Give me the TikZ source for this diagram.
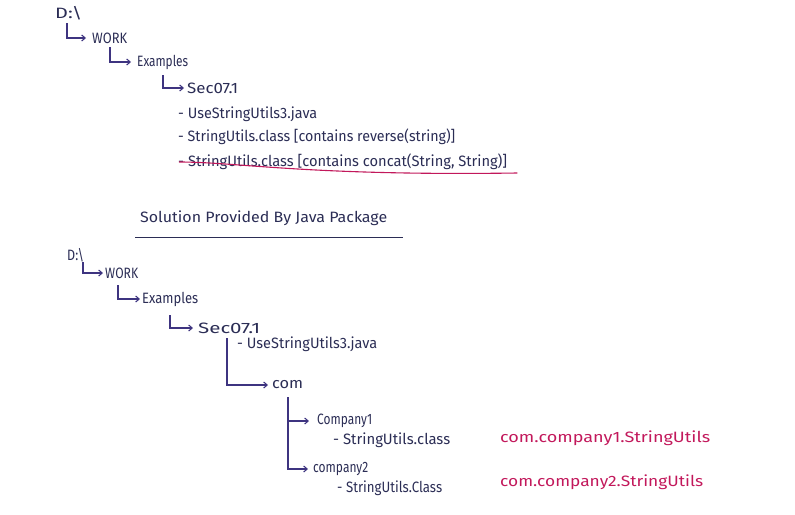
\documentclass[tikz,border=0pt]{standalone}
\usepackage{fontspec}
\usepackage{graphicx}
\setmainfont{Fira Sans}
\usetikzlibrary{arrows.meta}
\definecolor{ink}{HTML}{2B2D55}
\definecolor{wire}{HTML}{3E3480}
\definecolor{mag}{HTML}{C2185B}
\newcommand\fitw[2]{\resizebox{#1pt}{\height}{#2}}
\tikzset{
  hw/.style={font=\fontsize{15}{17}\selectfont, text=ink, inner sep=0pt, anchor=west},
  hwmag/.style={hw, text=mag},
  arr/.style={draw=wire, line width=1.1pt, -{Straight Barb[length=3.5pt,width=6pt]}},
  wireline/.style={draw=wire, line width=1.1pt},
  redline/.style={draw=mag, line width=1.1pt},
  uline/.style={draw=ink, line width=1pt}
}
\begin{document}
\begin{tikzpicture}[x=1pt,y=-1pt]
\useasboundingbox (0,0) rectangle (795,514);
% ---- top tree ----
\node[hw] (d1) at (55,13) {\fitw{27}{D:\textbackslash}};
\node[hw] (w1) at (92,38) {\fitw{35}{WORK}};
\node[hw] (e1) at (137,62) {\fitw{51}{Examples}};
\node[hw] (s1) at (187,88) {\fitw{51}{Sec07.1}};
\node[hw] (u1) at (178,114) {\fitw{139}{- UseStringUtils3.java}};
\node[hw] (c1) at (178,137) {\fitw{277}{- StringUtils.class [contains reverse(string)]}};
\node[hw] (c2) at (178,162) {\fitw{329}{- StringUtils.class [contains concat(String, String)]}};
\draw[arr] ([shift={(12pt,-10pt)}]d1.west) |- ([xshift=-6pt]w1.west);
\draw[arr] ([shift={(18pt,-9pt)}]w1.west) |- ([xshift=-6pt]e1.west);
\draw[arr] ([shift={(26pt,-13pt)}]e1.west) |- ([xshift=-3pt]s1.west);
\draw[redline] ([shift={(1pt,0pt)}]c2.west) .. controls ([shift={(60pt,0pt)}]c2.west) and ([shift={(-200pt,-14pt)}]c2.east) .. ([shift={(10pt,-11pt)}]c2.east);
% ---- title ----
\node[hw] (t) at (140,218) {\fitw{247}{Solution Provided By Java Package}};
\draw[uline] ([shift={(-5pt,-19pt)}]t.west) -- ([shift={(16pt,-19pt)}]t.east);
% ---- bottom tree ----
\node[hw] (d2) at (67,255) {\fitw{17}{D:\textbackslash}};
\node[hw] (w2) at (105,273) {\fitw{33}{WORK}};
\node[hw] (e2) at (142,299) {\fitw{56}{Examples}};
\node[hw] (s2) at (198,328) {\fitw{62}{Sec07.1}};
\node[hw] (u2) at (237,344) {\fitw{140}{- UseStringUtils3.java}};
\node[hw] (com) at (272,385) {\fitw{31}{com}};
\node[hw] (cp1) at (317,421) {\fitw{55}{Company1}};
\node[hw] (su1) at (333,440) {\fitw{117}{- StringUtils.class}};
\node[hw] (cp2) at (313,469) {\fitw{55}{company2}};
\node[hw] (su2) at (337,488) {\fitw{105}{- StringUtils.Class}};
\node[hwmag] (m1) at (500,438) {\fitw{210}{com.company1.StringUtils}};
\node[hwmag] (m2) at (500,482) {\fitw{203}{com.company2.StringUtils}};
\draw[arr] ([shift={(16pt,-7pt)}]d2.west) |- ([xshift=-2pt]w2.west);
\draw[arr] ([shift={(13pt,-12pt)}]w2.west) |- ([xshift=-2pt]e2.west);
\draw[arr] ([shift={(28pt,-16pt)}]e2.west) |- ([xshift=-5pt]s2.west);
\draw[arr] ([shift={(29pt,-10pt)}]s2.west) |- ([xshift=-4pt]com.west);
\draw[arr] ([shift={(16pt,-12pt)}]com.west) |- ([xshift=-5pt]cp2.west);
\draw[arr] ([xshift=16pt]com.west |- cp1.west) -- ([xshift=-8pt]cp1.west);
\end{tikzpicture}
\end{document}
